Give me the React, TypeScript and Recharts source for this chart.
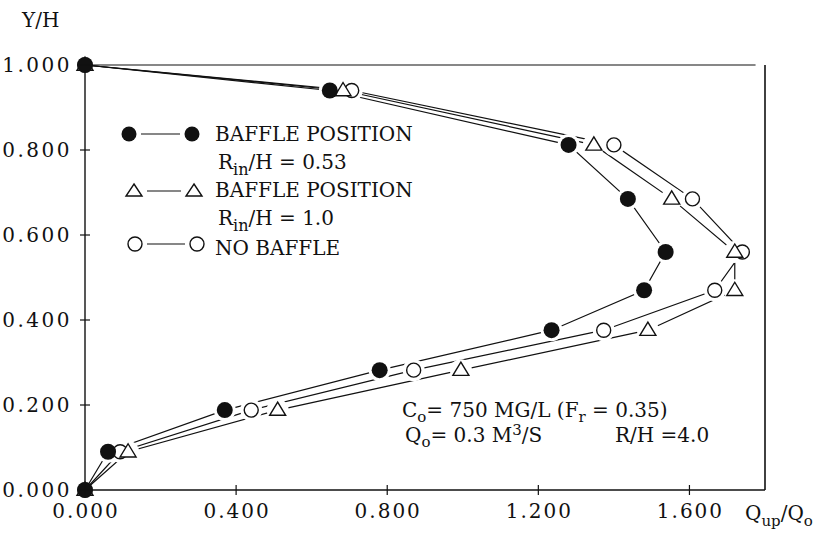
import React from 'react';
import { ComposedChart, Line, Scatter, XAxis, YAxis, ReferenceLine } from 'recharts';

// Y/H levels shared by all three profiles (top to bottom)
const Y_LEVELS = [1.0, 0.94, 0.812, 0.685, 0.56, 0.47, 0.376, 0.282, 0.188, 0.09, 0];

// Qup/Qo for each profile
const BAFFLE_053_X = [0, 0.648, 1.28, 1.437, 1.537, 1.48, 1.235, 0.78, 0.37, 0.061, 0];
const BAFFLE_10_X = [0, 0.683, 1.347, 1.553, 1.72, 1.72, 1.49, 0.995, 0.51, 0.114, 0];
const NO_BAFFLE_X = [0, 0.706, 1.4, 1.608, 1.74, 1.667, 1.373, 0.87, 0.44, 0.093, 0];

const X_TICKS = [0, 0.4, 0.8, 1.2, 1.6];
const Y_TICKS = [0, 0.2, 0.4, 0.6, 0.8, 1.0];

const toPoints = (xs: number[]) => xs.map((x, i) => ({ x, y: Y_LEVELS[i] }));
const filled = toPoints(BAFFLE_053_X);
const triangles = toPoints(BAFFLE_10_X);
const circles = toPoints(NO_BAFFLE_X);

const INK = '#111';
const FONT = '"DejaVu Serif", serif';

const renderFilled = (p: any) => <circle cx={p.cx} cy={p.cy} r={8} fill={INK} />;

const renderOpenCircle = (p: any) => (
  <circle cx={p.cx} cy={p.cy} r={7} fill="#fff" stroke={INK} strokeWidth={1.4} />
);

const renderTriangle = (p: any) => {
  const { cx, cy } = p;
  const s = 8;
  return (
    <polygon
      points={`${cx},${cy - s} ${cx + s},${cy + s * 0.65} ${cx - s},${cy + s * 0.65}`}
      fill="#fff"
      stroke={INK}
      strokeWidth={1.4}
    />
  );
};

// white ring so connecting lines stop short of the markers, like the plotter output
const renderHalo = (p: any) => {
  const onAxis = p.payload && p.payload.x === 0;
  return <circle cx={p.cx} cy={p.cy} r={onAxis ? 0 : 11} fill="#fff" />;
};

const YTick = (props: any) => {
  const { x, y, payload } = props;
  return (
    <g>
      <line x1={x + 8} x2={x + 18} y1={y} y2={y} stroke={INK} strokeWidth={1.2} />
      <text x={x} y={y + 7} textAnchor="end" fontFamily={FONT} fontSize={20} letterSpacing={2.5} fill={INK}>
        {payload.value.toFixed(3)}
      </text>
    </g>
  );
};

const XTick = (props: any) => {
  const { x, y, payload } = props;
  return (
    <g>
      <line x1={x} x2={x} y1={y - 5} y2={y + 5} stroke={INK} strokeWidth={1.2} />
      <text x={x + 1} y={y + 28} textAnchor="middle" fontFamily={FONT} fontSize={20} letterSpacing={2} fill={INK}>
        {payload.value.toFixed(3)}
      </text>
    </g>
  );
};

export default function App() {
  const lineProps = { stroke: INK, strokeWidth: 1.2, dot: false, activeDot: false, type: 'linear' as const, isAnimationActive: false };
  return (
    <div style={{ position: 'absolute', left: 0, top: 0, width: 837, height: 536, background: '#fff' }}>
      <ComposedChart
        width={837}
        height={536}
        margin={{ top: 65, right: 72, bottom: 0, left: 0 }}
        style={{ position: 'absolute', left: 0, top: 0 }}
      >
        <XAxis
          type="number"
          dataKey="x"
          domain={[0, 1.8]}
          ticks={X_TICKS}
          height={46}
          tickSize={0}
          tickMargin={0}
          tick={<XTick />}
          axisLine={{ stroke: INK, strokeWidth: 1.4 }}
        />
        <YAxis
          type="number"
          dataKey="y"
          domain={[0, 1]}
          ticks={Y_TICKS}
          width={85}
          tickSize={0}
          tickMargin={13}
          tick={<YTick />}
          axisLine={{ stroke: INK, strokeWidth: 1.4 }}
        />
        <ReferenceLine segment={[{ x: 0, y: 1 }, { x: 1.775, y: 1 }]} stroke={INK} strokeWidth={1.2} />
        <ReferenceLine x={1.8} stroke={INK} strokeWidth={1.6} />

        {/* connecting lines */}
        <Line data={circles} dataKey="y" {...lineProps} />
        <Line data={triangles} dataKey="y" {...lineProps} />
        <Line data={filled} dataKey="y" {...lineProps} />

        {/* gaps around markers */}
        <Scatter data={circles} dataKey="y" shape={renderHalo} isAnimationActive={false} />
        <Scatter data={triangles} dataKey="y" shape={renderHalo} isAnimationActive={false} />
        <Scatter data={filled} dataKey="y" shape={renderHalo} isAnimationActive={false} />

        {/* markers */}
        <Scatter data={circles} dataKey="y" shape={renderOpenCircle} isAnimationActive={false} />
        <Scatter data={triangles} dataKey="y" shape={renderTriangle} isAnimationActive={false} />
        <Scatter data={filled} dataKey="y" shape={renderFilled} isAnimationActive={false} />
      </ComposedChart>

      <svg
        width={837}
        height={536}
        style={{ position: 'absolute', left: 0, top: 0, pointerEvents: 'none' }}
        fontFamily={FONT}
        fill={INK}
      >
        <text x={22} y={27} fontSize={20}>Y/H</text>
        <text x={745} y={520} fontSize={20}>
          Q<tspan fontSize={15} dy={6}>up</tspan>
          <tspan dy={-6}>/Q</tspan>
          <tspan fontSize={15} dy={6}>o</tspan>
        </text>

        {/* legend */}
        <line x1={141} x2={180} y1={134} y2={134} stroke={INK} strokeWidth={1.2} />
        <circle cx={129} cy={134} r={7.5} fill={INK} />
        <circle cx={192} cy={134} r={7.5} fill={INK} />
        <text x={215} y={141} fontSize={20}>BAFFLE POSITION</text>
        <text x={218} y={169} fontSize={20}>
          R<tspan fontSize={16} dy={6}>in</tspan>
          <tspan dy={-6}>/H = 0.53</tspan>
        </text>

        <line x1={147} x2={181} y1={191} y2={191} stroke={INK} strokeWidth={1.2} />
        <polygon points="134,184 142,196 126,196" fill="#fff" stroke={INK} strokeWidth={1.4} />
        <polygon points="194,184 202,196 186,196" fill="#fff" stroke={INK} strokeWidth={1.4} />
        <text x={215} y={197} fontSize={20}>BAFFLE POSITION</text>
        <text x={218} y={225} fontSize={20}>
          R<tspan fontSize={16} dy={6}>in</tspan>
          <tspan dy={-6}>/H = 1.0</tspan>
        </text>

        <line x1={147} x2={185} y1={244} y2={244} stroke={INK} strokeWidth={1.2} />
        <circle cx={135} cy={244} r={7} fill="#fff" stroke={INK} strokeWidth={1.4} />
        <circle cx={197} cy={244} r={7} fill="#fff" stroke={INK} strokeWidth={1.4} />
        <text x={215} y={255} fontSize={20}>NO BAFFLE</text>

        {/* run conditions */}
        <text x={402} y={417} fontSize={20}>
          C<tspan fontSize={15} dy={5}>o</tspan>
          <tspan dy={-5}>= 750 MG/L (F</tspan>
          <tspan fontSize={15} dy={5}>r</tspan>
          <tspan dy={-5}> = 0.35)</tspan>
        </text>
        <text x={405} y={442} fontSize={20}>
          Q<tspan fontSize={15} dy={5}>o</tspan>
          <tspan dy={-5}>= 0.3 M</tspan>
          <tspan fontSize={15} dy={-7}>3</tspan>
          <tspan dy={7}>/S</tspan>
        </text>
        <text x={615} y={442} fontSize={20}>R/H =4.0</text>
      </svg>
    </div>
  );
}
